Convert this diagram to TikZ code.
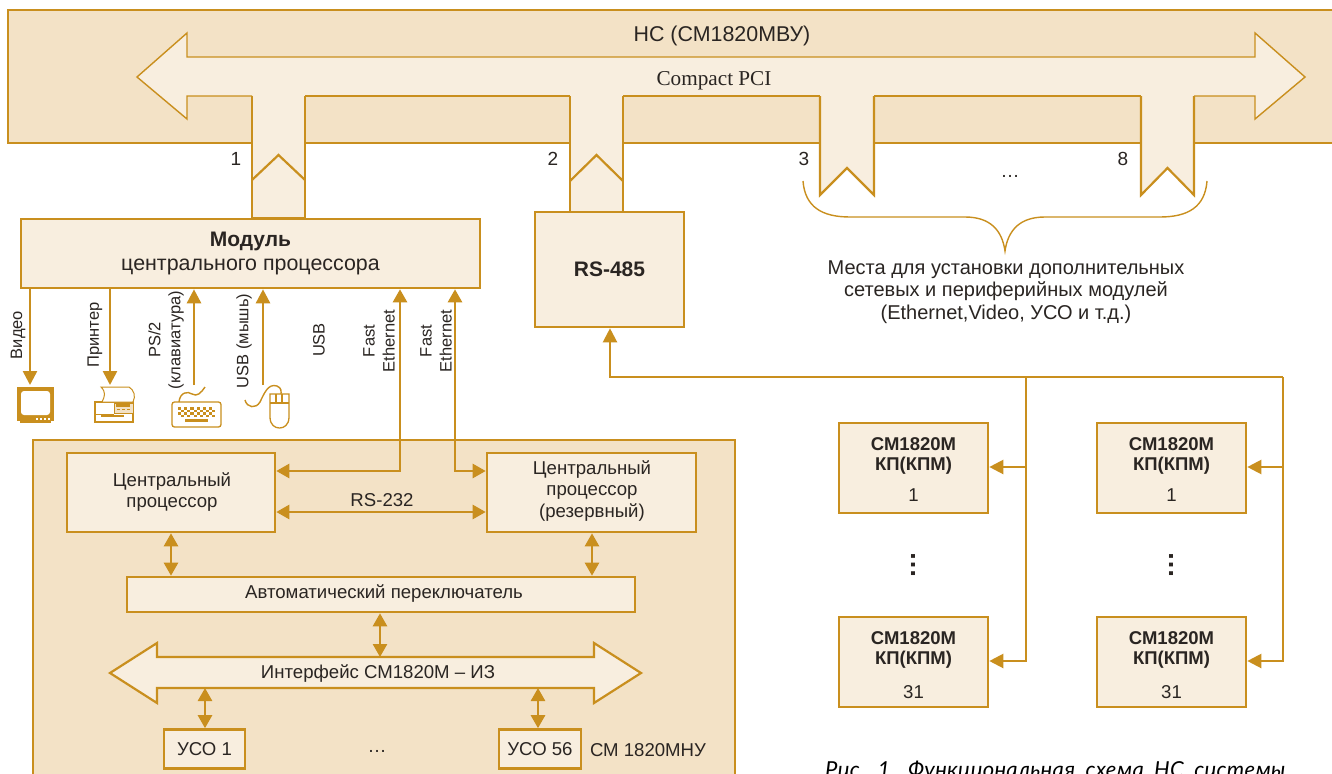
\documentclass[tikz,border=0pt]{standalone}
\usepackage{fontspec}
\setmainfont{Liberation Sans}
\newfontfamily\serifcap{Liberation Serif}
\newfontfamily\capfont[WordSpace=1.9,LetterSpace=1.5]{Lato}
\usetikzlibrary{arrows.meta,calc}
\definecolor{ln}{HTML}{C98F1E}
\definecolor{band}{HTML}{F3E2C6}
\definecolor{pale}{HTML}{F8EEDF}
\definecolor{txt}{HTML}{2A2522}
\tikzset{
  x=1pt,y=-1pt,
  txtstyle/.style={text=txt,font=\fontsize{19}{23}\selectfont,align=center,inner sep=0pt},
  small/.style={txtstyle,font=\fontsize{18.6}{21.5}\selectfont},
  boxn/.style={draw=ln,fill=pale,line width=2.6pt,inner sep=0pt,align=center,text=txt,font=\fontsize{18.6}{21.5}\selectfont},
  outl/.style={draw=ln,fill=pale,line width=2.2pt,line join=miter},
  conn/.style={draw=ln,line width=2.6pt,-{Triangle[length=14pt,width=14pt]}},
  bconn/.style={draw=ln,line width=2.6pt,{Triangle[length=13pt,width=14pt]}-{Triangle[length=13pt,width=14pt]}},
  plain/.style={draw=ln,line width=2.4pt},
  icon/.style={draw=ln,line width=1.3pt,fill=white},
}
\begin{document}
\begin{tikzpicture}
\clip (0,0) rectangle (1332,773);
\useasboundingbox (0,0) rectangle (1332,773);
\fill[white] (0,0) rectangle (1332,773);

% top band
\path[draw=ln,fill=band,line width=1.4pt] (8,10) rectangle (1345,143);
\node[txtstyle,font=\fontsize{21.4}{26}\selectfont] (ns) at (722,36) {НС (СМ1820МВУ)};

% connectors into bus
\path[outl] (252,96) -- (252,218) -- (305,218) -- (305,96);
\path[draw=ln,line width=2.2pt] (252,180) -- (278.5,155) -- (305,180);
\path[outl] (570,96) -- (570,212) -- (623,212) -- (623,96);
\path[draw=ln,line width=2.2pt] (570,181) -- (596.5,155) -- (623,181);
\path[outl] (820,96) -- (820,195) -- (847,168) -- (874,195) -- (874,96);
\path[outl] (1141,96) -- (1141,195) -- (1167.5,168) -- (1194,195) -- (1194,96);

% bus arrow
\fill[pale] (137,77) -- (187,33) -- (187,57) -- (1255,57) -- (1255,33) -- (1305,77) -- (1255,119) -- (1255,96) -- (187,96) -- (187,119) -- cycle;
\draw[ln,line width=1.4pt,line join=miter] (252,96) -- (187,96) -- (187,119) -- (137,77) -- (187,33) -- (187,57) -- (1255,57) -- (1255,33) -- (1305,77) -- (1255,119) -- (1255,96) -- (1194,96);
\draw[ln,line width=1.4pt] (305,96) -- (570,96) (623,96) -- (820,96) (874,96) -- (1141,96);
\node[txtstyle,font=\serifcap\fontsize{21.2}{26}\selectfont] (pci) at (714,81) {Compact PCI};

\node[txtstyle] (n1) at (236,159) {1};
\node[txtstyle] (n2) at (553,159) {2};
\node[txtstyle] (n3) at (804,159) {3};
\node[txtstyle] (n8) at (1123,159) {8};
\node[txtstyle] (ndots) at (1010,176) {…};

% brace
\path[draw=ln,line width=1.4pt] (803,181) .. controls (805,207) and (822,217) .. (850,217) -- (965,217) .. controls (990,217) and (1002,230) .. (1005,251) .. controls (1008,230) and (1020,217) .. (1045,217) -- (1160,217) .. controls (1188,217) and (1205,207) .. (1207,181);
\node[txtstyle,font=\fontsize{20}{22.5}\selectfont] (places) at (1006,292) {Места для установки дополнительных\\сетевых и периферийных модулей\\(Ethernet,Video, УСО и т.д.)};

% module and rs485
\node[boxn,minimum width=459pt,minimum height=69pt] (mod) at (250.5,253.5) {\textbf{\fontsize{21}{24}\selectfont Модуль}\\[2.5pt]{\fontsize{21.4}{24}\selectfont центрального процессора}};
\node[boxn,minimum width=149pt,minimum height=115pt] (rs) at (609.5,269.5) {\textbf{\fontsize{21}{25}\selectfont RS-485}};

% lower block
\path[draw=ln,fill=band,line width=1.6pt] (33,440) rectangle (735,800);
\node[boxn,minimum width=208pt,minimum height=79pt] (cp1) at (171,492.5) {};
\node[small] (cp1t) at (172,492) {Центральный\\процессор};
\node[boxn,minimum width=209pt,minimum height=79pt] (cp2) at (591.5,492.5) {};
\node[small] (cp2t) at (592,491) {Центральный\\процессор\\(резервный)};
\node[boxn,minimum width=508pt,minimum height=35pt] (sw) at (381,594.5) {};
\node[small] (swt) at (384,594) {Автоматический переключатель};
\path[draw=ln,fill=pale,line width=2.2pt] (110,673) -- (157,643) -- (157,657) -- (594,657) -- (594,643) -- (641,673) -- (594,703) -- (594,688) -- (157,688) -- (157,703) -- cycle;
\node[small] (ifc) at (378,674) {Интерфейс СМ1820М – ИЗ};
\node[boxn,minimum width=81pt,minimum height=39pt] (uso1) at (204.5,749) {УСО 1};
\node[boxn,minimum width=82pt,minimum height=39pt] (uso56) at (540,749) {УСО 56};
\node[small] (lbl) at (648,750) {СМ 1820МНУ};
\node[txtstyle] (dots2) at (377,751) {…};
\node[small] (rs232) at (382,500) {RS-232};

\coordinate (cV) at (171,0);
\coordinate (cW) at (592,0);
\coordinate (cS) at (380,0);
\draw[bconn] (cp1.south -| cV) -- (sw.north -| cV);
\draw[bconn] (cp2.south -| cW) -- (sw.north -| cW);
\coordinate (ifT) at (380,657);
\draw[bconn] (sw.south -| cS) -- (ifT);
\coordinate (ifA) at (205,688);
\coordinate (ifB) at (538,688);
\draw[bconn] (ifA) -- (uso1.north -| ifA);
\draw[bconn] (ifB) -- (uso56.north -| ifB);
\coordinate (rsY) at (0,512);
\draw[bconn] (cp1.east |- rsY) -- (cp2.west |- rsY);

% module connections
\coordinate (fe1) at (400,471);
\coordinate (fe2) at (455,471);
\draw[bconn] (cp1.east |- fe1) -- (fe1) -- (mod.south -| fe1);
\draw[bconn] (cp2.west |- fe2) -- (fe2) -- (mod.south -| fe2);

\coordinate (vidE) at (30,385);
\coordinate (prnE) at (110,385);
\coordinate (kbE) at (194,385);
\coordinate (msE) at (263,385);
\draw[conn] (mod.south -| vidE) -- (vidE);
\draw[conn] (mod.south -| prnE) -- (prnE);
\draw[conn] (kbE) -- (mod.south -| kbE);
\draw[conn] (msE) -- (mod.south -| msE);

% rotated labels
\tikzset{rot/.style={small,font=\fontsize{16.5}{20}\selectfont,rotate=90}}
\node[rot] (lv) at (18,335) {Видео};
\node[rot] (lp) at (95,335) {Принтер};
\node[rot] (lk) at (166,340) {PS/2\\(клавиатура)};
\node[rot] (lm) at (244,341) {USB (мышь)};
\node[rot] (lu) at (319,340) {USB};
\node[rot] (lf1) at (379,341) {Fast\\Ethernet};
\node[rot] (lf2) at (436,341) {Fast\\Ethernet};

% TV
\path[fill=ln] (17,387) rectangle (54,421);
\path[fill=ln] (20,421) rectangle (51,423);
\path[fill=white,rounded corners=3pt] (21,391) rectangle (50,415);
\foreach \x in {36,40,44,48} \fill[white] (\x,418) rectangle +(2,1.5);

% printer
\path[icon] (95,402) rectangle (133,422);
\path[draw=ln,line width=1pt,fill=white] (101,387) .. controls (106,392) and (105,396) .. (102,402) -- (133,402) .. controls (136,396) and (134,390) .. (129,387) -- cycle;
\path[draw=ln,line width=1pt,fill=band] (114,403) rectangle (133,413);
\fill[ln] (116,404) rectangle (130,407);
\foreach \x in {117,122,127} \fill[ln] (\x,409) rectangle +(3,1.4);
\fill[ln] (101,415) rectangle (124,416.5);
\draw[ln,line width=1pt] (95,414) -- (114,414);

% keyboard
\path[icon,rounded corners=2.5pt] (172,402) rectangle (221,427);
\path[draw=ln,line width=1.4pt] (179,402) .. controls (180,392) and (188,391) .. (192,394) .. controls (197,397) and (201,393) .. (205,387);
\foreach \i in {0,...,11}{
  \foreach \j in {0,1,2,3}{
    \pgfmathparse{int(mod(\i+\j,2))}
    \ifnum\pgfmathresult=0
      \fill[ln] ({178+\i*3.1},{407+\j*2.5}) rectangle +(3.1,2.5);
    \fi
  }
}
\fill[ln] (185,419) rectangle (208,422);

% mouse
\path[draw=ln,line width=1.4pt] (245,400) .. controls (247,408) and (256,409) .. (260,402) .. controls (264,394) and (268,383) .. (277,386) .. controls (282,388) and (281,392) .. (281,394);
\path[icon] (270,394) -- (289,394) -- (289,417) .. controls (289,425) and (284,428) .. (279.5,428) .. controls (275,428) and (270,425) .. (270,417) -- cycle;
\draw[ln,line width=1.1pt] (270,403) -- (289,403) (276,394) -- (276,403) (282,394) -- (282,403);

% right side boxes
\newcommand{\kpbox}[5]{%
  \node[boxn,minimum width=149pt,minimum height=90pt] (#1) at (#2,#3) {};
  \node[txtstyle,font=\bfseries\fontsize{18.5}{20}\selectfont] (#1t) at (#2,#3-12) {СМ1820М\\КП(КПМ)};
  \node[small] (#1n) at (#2,#3+#5) {#4};
}
\kpbox{a}{913.5}{468}{1}{27}
\kpbox{b}{1171.5}{468}{1}{27}
\kpbox{c}{913.5}{662}{31}{30}
\kpbox{d}{1171.5}{662}{31}{30}
\node[txtstyle,font=\bfseries\fontsize{27}{27}\selectfont] (vd1) at (913,565) {\rotatebox{90}{…}};
\node[txtstyle,font=\bfseries\fontsize{27}{27}\selectfont] (vd2) at (1171,565) {\rotatebox{90}{…}};

\coordinate (busS) at (610,377);
\coordinate (busM) at (1026,377);
\coordinate (busR) at (1283,377);
\coordinate (rowA) at (1026,467);
\coordinate (rowB) at (1283,467);
\coordinate (rowC) at (1026,661);
\coordinate (rowD) at (1283,661);
\draw[conn,line width=2.2pt] (busR) -- (busS) -- (rs.south -| busS);
\draw[conn,line width=2.2pt] (busM) -- (rowC) -- (c.east |- rowC);
\draw[conn,line width=2.2pt] (busR) -- (rowD) -- (d.east |- rowD);
\draw[conn,line width=2.2pt] (rowA) -- (a.east |- rowA);
\draw[conn,line width=2.2pt] (rowB) -- (b.east |- rowB);

\node[anchor=west,inner sep=0pt,text=black,font=\capfont\itshape\fontsize{22}{26}\selectfont] (cap) at (825,771) {Рис. 1. Функциональная схема НС системы};
\end{tikzpicture}
\end{document}
